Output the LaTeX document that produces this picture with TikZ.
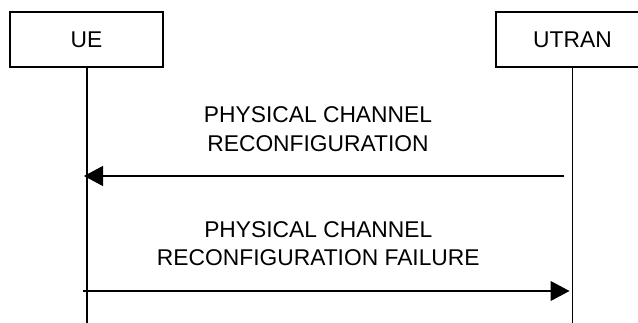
\documentclass[tikz,border=0pt]{standalone}
\usepackage{fontspec}
\setmainfont{Liberation Sans}
\usetikzlibrary{arrows.meta}
\begin{document}
\begin{tikzpicture}[x=1pt,y=1pt,
  entity/.style={draw=black,line width=1.1pt,fill=white,minimum width=153pt,minimum height=55pt,inner sep=0pt,font=\fontsize{22.8}{27}\selectfont},
  lifeline/.style={draw=black,line width=1.1pt},
  msg/.style={draw=black,line width=1.1pt,-{Triangle[length=19pt,width=20pt]}},
  msglabel/.style={align=center,inner sep=0pt,font=\fontsize{22.8}{28.8}\selectfont}]
\useasboundingbox (0,0) rectangle (638,-323);
\node[entity] (ue) at (86.5,-39.5) {UE};
\node[entity] (utran) at (572.5,-39.5) {UTRAN};
\coordinate (ueend) at (87,-330);
\coordinate (utranend) at (572.5,-330);
\draw[lifeline] (ue.south -| ueend) -- (ueend);
\draw[lifeline] (utran.south) -- (utranend);
\coordinate (m1s) at (564,-176);
\coordinate (m1e) at (84,-176);
\coordinate (m2s) at (82.5,-291);
\coordinate (m2e) at (569.5,-291);
\draw[msg] (m1s) -- (m1e);
\draw[msg] (m2s) -- (m2e);
\node[msglabel] (l1) at (318,-129.5) {PHYSICAL CHANNEL\\RECONFIGURATION};
\node[msglabel] (l2) at (318.3,-243.7) {PHYSICAL CHANNEL\\RECONFIGURATION FAILURE};
\end{tikzpicture}
\end{document}
